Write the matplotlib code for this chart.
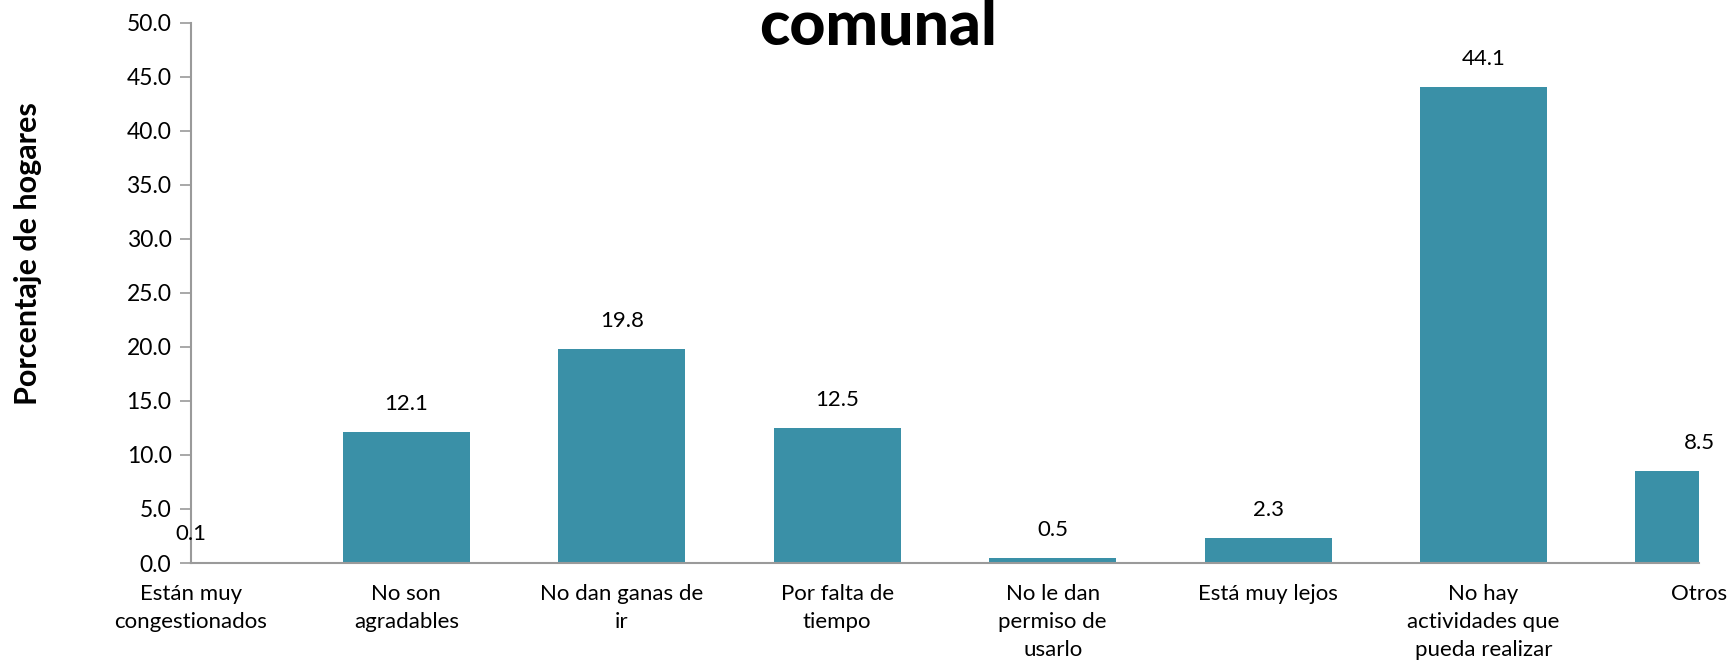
"""
Razones por las que los hogares no usan el espacio comunal.
"""

import matplotlib
matplotlib.use("Agg")
import matplotlib.pyplot as plt
from matplotlib.ticker import FormatStrFormatter, MultipleLocator


categories = [
    "Están muy\ncongestionados",
    "No son\nagradables",
    "No dan ganas de\nir",
    "Por falta de\ntiempo",
    "No le dan\npermiso de\nusarlo",
    "Está muy lejos",
    "No hay\nactividades que\npueda realizar",
    "Otros",
]
values = [0.1, 12.1, 19.8, 12.5, 0.5, 2.3, 44.1, 8.5]

BAR_COLOR = "#3A90A7"
AXIS_COLOR = "#9A9A9A"
FONT = "Lato"


def main() -> None:
    plt.rcParams["font.family"] = [FONT, "DejaVu Sans"]

    fig = plt.figure(figsize=(17.31, 6.72), dpi=100)
    ax = fig.add_axes([0.1103, 0.1622, 0.8712, 0.8036])

    x = list(range(len(categories)))
    ax.bar(x, values, width=0.59, color=BAR_COLOR, zorder=2)

    for xi, v in zip(x, values):
        ax.annotate(f"{v:.1f}", (xi, v), xytext=(0, 13), textcoords="offset points",
                    ha="center", va="bottom", fontsize=16, color="black",
                    annotation_clip=False)

    ax.set_xlim(0, len(categories) - 1)
    ax.set_ylim(0, 50)
    ax.yaxis.set_major_locator(MultipleLocator(5))
    ax.yaxis.set_major_formatter(FormatStrFormatter("%.1f"))

    ax.set_xticks(x)
    ax.set_xticklabels(categories, fontsize=16, linespacing=1.5, va="top")
    ax.tick_params(axis="x", length=0, pad=15)
    ax.tick_params(axis="y", length=8, width=1.2, color=AXIS_COLOR, labelsize=16.5, pad=6)

    for side in ["top", "right"]:
        ax.spines[side].set_visible(False)
    for side in ["left", "bottom"]:
        ax.spines[side].set_color(AXIS_COLOR)
        ax.spines[side].set_linewidth(1.5)

    fig.text(0.016, 0.623, "Porcentaje de hogares", rotation=90, ha="center", va="center",
             fontsize=22, fontweight="bold")
    fig.text(0.507, 0.934, "comunal", ha="center", va="baseline", fontsize=45,
             fontweight="black")

    fig.savefig("out.png", dpi=100)
    plt.close(fig)


if __name__ == "__main__":
    main()
